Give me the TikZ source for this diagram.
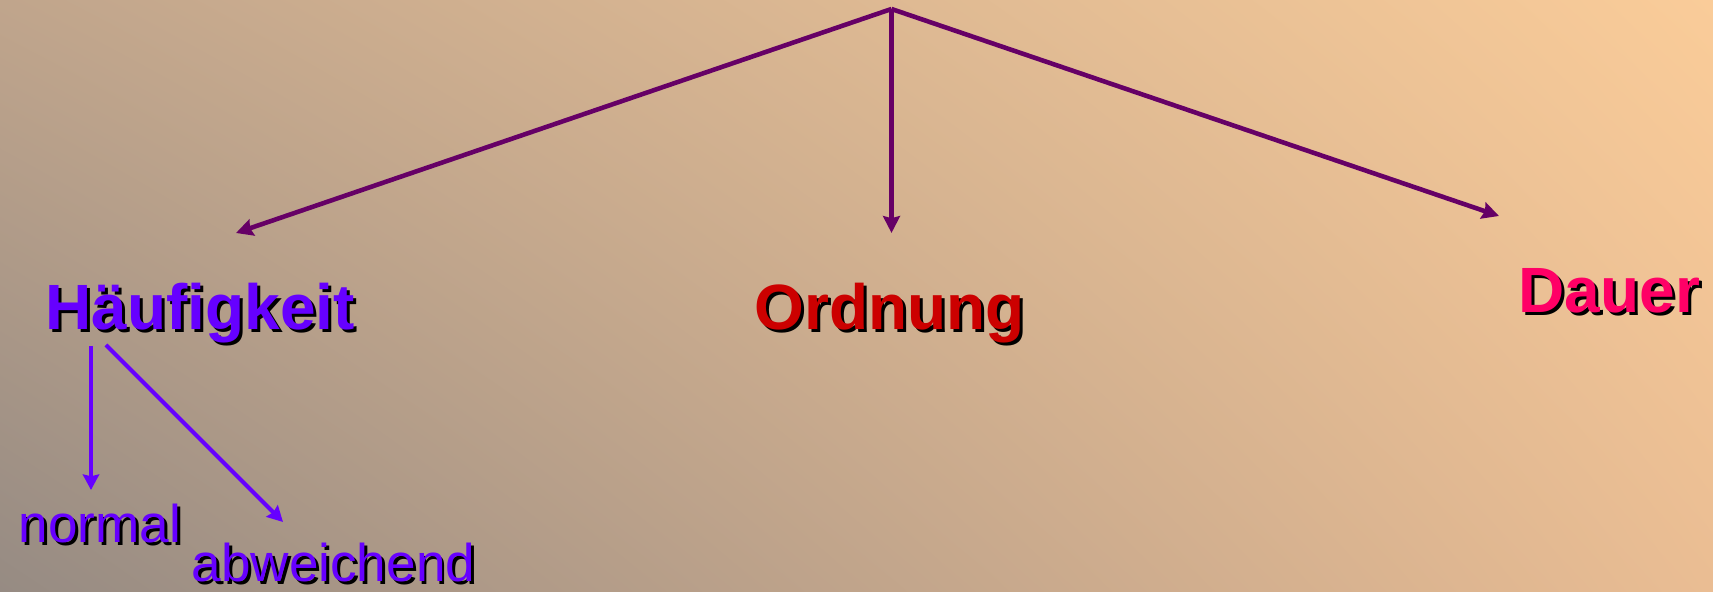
\documentclass[tikz,border=0pt]{standalone}
\usepackage{fontspec}
\setmainfont{Liberation Sans}
\usetikzlibrary{arrows.meta, positioning, shadings}
\definecolor{bgul}{RGB}{192,165,140}
\definecolor{bgur}{RGB}{250,204,153}
\definecolor{bgll}{RGB}{150,139,131}
\definecolor{bglr}{RGB}{234,189,147}
\definecolor{violett}{RGB}{102,0,255}
\definecolor{dunkelrot}{RGB}{204,0,0}
\definecolor{pink}{RGB}{255,0,102}
\definecolor{pflaume}{RGB}{102,0,102}
\newcommand{\schatten}[2]{\rlap{\hspace{0.85pt}\raisebox{-0.85pt}{\color{black}#2}}{\color{#1}#2}}

\begin{document}
\begin{tikzpicture}[x=0.01cm, y=-0.01cm,
		titel/.style={inner sep=0pt, anchor=base west, font=\fontsize{18.2}{22}\selectfont\bfseries},
		unter/.style={inner sep=0pt, anchor=base west, font=\fontsize{15.1}{18}\selectfont},
		hauptpfeil/.style={pflaume, line width=1.3pt, -{Stealth[length=4.8pt, width=4.8pt, inset=0.6pt]}},
		nebenpfeil/.style={violett, line width=1.2pt, -{Stealth[length=4.4pt, width=4.6pt, inset=0.5pt]}}]
		% background
		\shade[upper left=bgul, upper right=bgur, lower left=bgll, lower right=bglr] (0,0) rectangle (1713,592);
		\useasboundingbox (0,0) rectangle (1713,592);
		% labels:
		\node[titel] (hfk) at (45,330) {\schatten{violett}{Häufigkeit}};
		\node[titel] (ord) at (754,330) {\schatten{dunkelrot}{Ordnung}};
		\node[titel] (dau) at (1518,313) {\schatten{pink}{Dauer}};
		\node[unter] (nor) at (18,543) {\schatten{violett}{normal}};
		\node[unter] (abw) at (191,582) {\schatten{violett}{abweichend}};
		% top arrows
		\coordinate (spitze) at (891.5,9);
		\coordinate (zielH) at (236,233);
		\coordinate (zielO) at (891.5,233);
		\coordinate (zielD) at (1499,216);
		\draw[hauptpfeil] (spitze)--(zielH);
		\draw[hauptpfeil] (spitze)--(zielO);
		\draw[hauptpfeil] (spitze)--(zielD);
		% sub arrows
		\coordinate (startN) at (91,346);
		\coordinate (zielN) at (91,490);
		\coordinate (startA) at (106,345);
		\coordinate (zielA) at (283,522);
		\draw[nebenpfeil] (startN)--(zielN); %normal
		\draw[nebenpfeil] (startA)--(zielA); %abweichend
	\end{tikzpicture}
\end{document}
